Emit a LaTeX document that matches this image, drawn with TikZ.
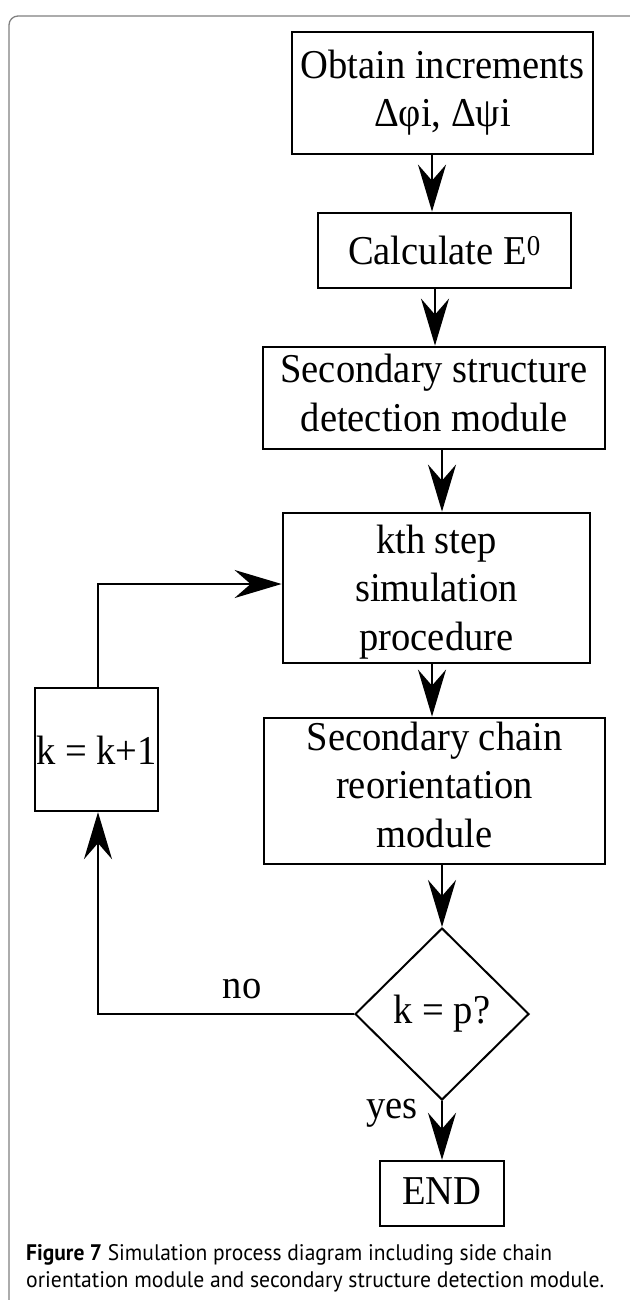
\documentclass[tikz,border=0pt]{standalone}
\usepackage{graphicx}
\usepackage{fontspec}
\setmainfont{Liberation Serif}
\newfontfamily\diag{Liberation Serif}[FakeStretch=0.94]
\newfontfamily\capfont{PT Sans}
\usetikzlibrary{arrows.meta,shapes.geometric}
\tikzset{
  box/.style={draw, rectangle, line width=2.8pt, inner sep=0pt},
  thinbox/.style={draw, rectangle, line width=2.3pt, inner sep=0pt},
  txt/.style={align=center, inner sep=0pt, font=\diag\fontsize{41}{48.5}\selectfont},
  arr/.style={line width=2.6pt, -{Stealth[length=47pt,width=28pt,inset=16pt]}},
  captxt/.style={anchor=base west, inner sep=0pt, font=\capfont\fontsize{22.5}{27}\selectfont},
  frame/.style={draw=black!50, line width=1.3pt, rounded corners=9pt}
}
\begin{document}
\begin{tikzpicture}[x=1pt,y=-1pt]
\useasboundingbox (0,0) rectangle (629,1300);
\draw[frame] (9,1320) -- (9,16) -- (660,16);

% boxes
\node[box, minimum width=301pt, minimum height=122pt] (b1) at (442.4,93) {};
\node[box, minimum width=253pt, minimum height=75pt] (b2) at (444.5,250.5) {};
\node[box, minimum width=342pt, minimum height=102pt] (b3) at (434,398) {};
\node[box, minimum width=307pt, minimum height=150pt] (b4) at (436.5,588) {};
\node[box, minimum width=341pt, minimum height=146pt] (b5) at (434.5,791) {};
\node[thinbox, minimum width=123pt, minimum height=123pt] (k) at (96.5,749.5) {};
\node[draw, diamond, line width=2pt, inner sep=0pt, minimum width=174pt, minimum height=172pt] (d) at (442,1014) {};
\node[thinbox, minimum width=124pt, minimum height=65pt] (e) at (442,1193.5) {};

% texts
\node[txt] (t1) at (442.5,92.5) {Obtain increments\\Δφi, Δψi};
\node[txt] (t2) at (444.5,250.5) {Calculate E\textsuperscript{0}};
\node[txt] (t3) at (434,393) {Secondary structure\\detection module};
\node[txt] (t4) at (436.5,592) {kth step\\simulation\\procedure};
\node[txt] (t5) at (434.5,784.5) {Secondary chain\\reorientation\\module};
\node[txt] (tk) at (96.5,750) {k = k+1};
\node[txt] (td) at (442,1013.5) {k = p?};
\node[txt] (te) at (442,1191.5) {END};
\node[txt, anchor=base] (no) at (242,998) {no};
\node[txt, anchor=base] (yes) at (392,1118) {yes};

% connectors
\draw[arr] ([xshift=-10.4pt]b1.south) -- ([xshift=-12.5pt]b2.north);
\draw[arr] ([xshift=-9.5pt]b2.south) -- ([xshift=1pt]b3.north);
\draw[arr] ([xshift=8pt]b3.south) -- ([xshift=5.5pt]b4.north);
\draw[arr] ([xshift=-4.5pt]b4.south) -- ([xshift=-2.5pt]b5.north);
\draw[arr] ([xshift=7.5pt]b5.south) -- (d.north);
\draw[arr] (d.south) -- (e.north);
\draw[arr] (d.west) -| ([xshift=1.5pt]k.south);
\draw[arr] ([xshift=1.5pt]k.north) |- ([yshift=4pt]b4.west);

% caption
\node[captxt] (cap1) at (26,1260) {\resizebox{526pt}{\height}{\textbf{Figure 7} Simulation process diagram including side chain}};
\node[captxt] (cap2) at (26,1287) {\resizebox{578pt}{\height}{orientation module and secondary structure detection module.}};
\end{tikzpicture}
\end{document}
